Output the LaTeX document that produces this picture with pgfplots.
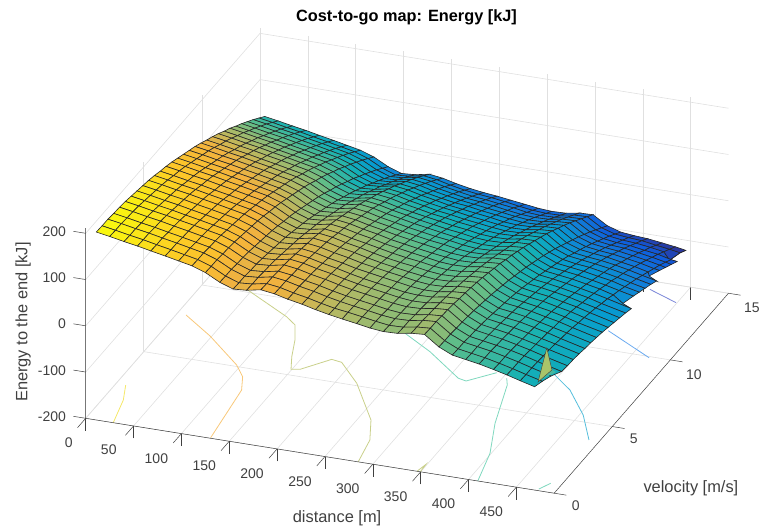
\documentclass[border=0pt]{standalone}
\usepackage{pgfplots}
\pgfplotsset{compat=1.18}
\usepackage{fontspec}
\setmainfont{Liberation Sans}
\definecolor{tk}{RGB}{64,64,64}
\definecolor{cyel}{RGB}{245,232,106}
\definecolor{cora}{RGB}{248,200,122}
\definecolor{coli}{RGB}{201,208,138}
\definecolor{ctea}{RGB}{127,216,190}
\definecolor{ccya}{RGB}{85,190,220}
\definecolor{cblu}{RGB}{106,170,240}
\definecolor{cpur}{RGB}{122,134,216}
\begin{document}
\begin{tikzpicture}
\begin{axis}[
 x={(0.957pt,-0.153pt)}, y={(11.62pt,13.33pt)}, z={(0pt,0.4625pt)},
 xmin=0,xmax=489.5,ymin=0,ymax=15,zmin=-200,zmax=211,
 xtick={0,50,...,450}, ytick={0,5,10,15}, ztick={-200,-100,0,100,200},
 xticklabels={{\hspace*{16pt}0},50,100,150,200,250,300,350,400,450},
 xtick pos=left, ytick pos=left, ztick pos=left,
 tick align=outside, major tick length=12.4pt,
 xtick style={draw=tk,line width=0.5pt},
 ytick style={draw=none}, ztick style={draw=none},
 grid=major, major grid style={draw=black!12,line width=0.6pt},
 axis line style={draw=none},
 clip=false,
 /pgf/number format/assume math mode=true,
 ticklabel style={font=\fontsize{14}{14}\selectfont,text=tk},
 xticklabel style={xshift=-13pt,yshift=-5pt},
 yticklabel style={xshift=2pt,yshift=-2pt},
 zticklabel style={anchor=east,xshift=-8pt,yshift=11pt},
 title={\textbf{Cost-to-go map: Energy [kJ]}},
 title style={at={(axis cs:-27.8,29.9,-200)},anchor=center,yshift=-8pt,font=\fontsize{16.3}{16}\selectfont},
 xlabel={distance [m]}, ylabel={velocity [m/s]}, zlabel={Energy to the end [kJ]},
 xlabel style={at={(axis cs:309.4,-3.85,-200)},anchor=center,yshift=-1pt,font=\fontsize{16.4}{16}\selectfont,text=tk},
 ylabel style={at={(axis cs:613.9,2.04,-200)},anchor=center,rotate=0,xshift=-6pt,yshift=-3pt,font=\fontsize{16.4}{16}\selectfont,text=tk},
 zlabel style={at={(axis cs:-134.4,5.68,-200)},anchor=center,font=\fontsize{16.4}{16}\selectfont,text=tk},
 colormap={parula}{rgb255=(53,42,135) rgb255=(15,92,221) rgb255=(18,125,216) rgb255=(7,156,207) rgb255=(21,177,180) rgb255=(89,189,140) rgb255=(170,186,105) rgb255=(243,178,62) rgb255=(253,200,40) rgb255=(249,251,14)},
 point meta min=-125, point meta max=190,
]
\addplot3[no marks,draw=cyel,line width=0.8pt] coordinates {(28.8,0,-200)(19.9,1.6,-200)(10.1,2.61,-200)};
\addplot3[no marks,draw=cora,line width=0.8pt] coordinates {(130.1,0.04,-200)(125.1,1.83,-200)(120.4,3.5,-200)(110.7,4.39,-200)(95.8,5.1,-200)(48.2,6.73,-200)(9.4,7.86,-200)};
\addplot3[no marks,draw=coli,line width=0.8pt] coordinates {(44.5,10.19,-200)(103.1,8.8,-200)(117.4,8.35,-200)(129.3,7.36,-200)(139.7,6.23,-200)(149.1,5.39,-200)(157.4,5.48,-200)(178.5,6.47,-200)(190,6.38,-200)(220.6,5.16,-200)(263,2.89,-200)(278,1.56,-200)(284.7,0.01,-200)};
\addplot3[no marks,draw=coli,line width=0.8pt] coordinates {(346.2,0,-200)(348.9,0.55,-200)(349.6,0,-200)};
\addplot3[no marks,draw=ctea,line width=0.8pt] coordinates {(224.9,8.96,-200)(262.5,8.01,-200)(309.7,6.56,-200)(319,6.46,-200)(340.5,7.33,-200)};
\addplot3[no marks,draw=ctea,line width=0.8pt] coordinates {(354.1,7.07,-200)(360,6.63,-200)(379.4,3.98,-200)(398.8,1.95,-200)(409.7,0,-200)};
\addplot3[no marks,draw=ctea,line width=0.8pt] coordinates {(472.2,0.11,-200)(478.4,0.62,-200)};
\addplot3[no marks,draw=ccya,line width=0.8pt] coordinates {(390.1,7.97,-200)(421.5,6.96,-200)(453.7,5.45,-200)(478.9,3.87,-200)};
\addplot3[no marks,draw=cblu,line width=0.8pt] coordinates {(409.2,11.27,-200)(468.2,9.92,-200)};
\addplot3[no marks,draw=cpur,line width=0.8pt] coordinates {(414.3,14.43,-200)(448.9,13.83,-200)};
\addplot3[surf,shader=faceted,faceted color=black!85,line width=0.6pt,z buffer=default,mesh/rows=30,mesh/cols=33] table {
5 15 22
19 15 17
34 15 11
48 15 6
62 15 0
77 15 -6
91 15 -12
105 15 -18
119 15 -28
134 15 -44
148 15 -54
162 15 -52
177 15 -46
191 15 -50
205 15 -57
220 15 -63
234 15 -67
248 15 -70
262 15 -74
277 15 -78
291 15 -82
305 15 -84
320 15 -83
334 15 -78
348 15 -77
363 15 -96
377 15 -105
391 15 -108
405 15 -110
420 15 -114
434 15 -118
445 15 -122
445 15 -122
5 14.5 33
19 14.5 28
34 14.5 22
48 14.5 17
62 14.5 11
77 14.5 5
91 14.5 -1
105 14.5 -7
119 14.5 -17
134 14.5 -33
148 14.5 -43
162 14.5 -41
177 14.5 -35
191 14.5 -39
205 14.5 -46
220 14.5 -52
234 14.5 -56
248 14.5 -59
262 14.5 -63
277 14.5 -68
291 14.5 -72
305 14.5 -74
320 14.5 -73
334 14.5 -68
348 14.5 -67
363 14.5 -86
377 14.5 -95
391 14.5 -98
405 14.5 -100
420 14.5 -105
434 14.5 -109
445 14.5 -113
445 14.5 -113
5 14 44
19 14 39
34 14 33
48 14 28
62 14 22
77 14 16
91 14 10
105 14 4
119 14 -6
134 14 -22
148 14 -32
162 14 -30
177 14 -24
191 14 -28
205 14 -35
220 14 -41
234 14 -46
248 14 -49
262 14 -53
277 14 -57
291 14 -62
305 14 -64
320 14 -63
334 14 -58
348 14 -57
363 14 -76
377 14 -85
391 14 -89
405 14 -91
420 14 -95
434 14 -100
445 13.6 -103
445 13.6 -103
5 13.5 54
19 13.5 49
34 13.5 43
48 13.5 38
62 13.5 32
77 13.5 26
91 13.5 20
105 13.5 14
119 13.5 4
134 13.5 -12
148 13.5 -22
162 13.5 -20
177 13.5 -14
191 13.5 -18
205 13.5 -25
220 13.5 -31
234 13.5 -36
248 13.5 -39
262 13.5 -43
277 13.5 -48
291 13.5 -52
305 13.5 -54
320 13.5 -53
334 13.5 -48
348 13.5 -47
363 13.5 -66
377 13.5 -76
391 13.5 -80
405 13.5 -82
420 13.5 -87
434 13.5 -91
448 13.5 -98
454 13.5 -100
5 13 64
19 13 59
34 13 53
48 13 48
62 13 42
77 13 36
91 13 30
105 13 24
119 13 14
134 13 -2
148 13 -12
162 13 -10
177 13 -4
191 13 -8
205 13 -15
220 13 -21
234 13 -26
248 13 -30
262 13 -34
277 13 -38
291 13 -42
305 13 -45
320 13 -44
334 13 -39
348 13 -37
363 13 -57
377 13 -67
391 13 -71
405 13 -73
420 13 -78
434 13 -83
448 13 -89
454 13 -92
5 12.5 73
19 12.5 68
34 12.5 62
48 12.5 57
62 12.5 51
77 12.5 45
91 12.5 39
105 12.5 33
119 12.5 23
134 12.5 7
148 12.5 -3
162 12.5 -1
177 12.5 5
191 12.5 1
205 12.5 -6
220 12.5 -12
234 12.5 -17
248 12.5 -20
262 12.5 -25
277 12.5 -29
291 12.5 -33
305 12.5 -36
320 12.5 -35
334 12.5 -30
348 12.5 -28
363 12.5 -48
377 12.5 -58
391 12.5 -62
405 12.5 -65
420 12.5 -70
434 12.5 -75
448 12.5 -81
454 12.5 -84
5 12 83
19 12 78
34 12 72
48 12 67
62 12 61
77 12 55
91 12 49
105 12 43
119 12 33
134 12 17
148 12 7
162 12 9
177 12 15
191 12 11
205 12 4
220 12 -2
234 12 -8
248 12 -12
262 12 -16
277 12 -20
291 12 -25
305 12 -27
320 12 -26
334 12 -21
348 12 -20
363 12 -40
377 12 -50
391 12 -54
405 12 -57
420 12 -62
434 12 -67
448 12 -74
454 12 -76
5 11.5 91
19 11.5 86
34 11.5 80
48 11.5 75
62 11.5 69
77 11.5 63
91 11.5 57
105 11.5 51
119 11.5 41
134 11.5 25
148 11.5 15
162 11.5 17
177 11.5 23
191 11.5 19
205 11.5 12
220 11.5 6
234 11.5 1
248 11.5 -3
262 11.5 -8
277 11.5 -12
291 11.5 -16
305 11.5 -19
320 11.5 -18
334 11.5 -13
348 11.5 -11
363 11.5 -32
377 11.5 -42
391 11.5 -46
405 11.5 -49
420 11.5 -55
434 11.5 -60
448 11.5 -67
454 11.1 -62
5 11 100
19 11 95
34 11 89
48 11 84
62 11 78
77 11 72
91 11 66
105 11 60
119 11 50
134 11 34
148 11 24
162 11 26
177 11 32
191 11 28
205 11 21
220 11 15
234 11 9
248 11 5
262 11 0
277 11 -4
291 11 -8
305 11 -11
320 11 -10
334 11 -5
348 11 -3
363 11 -24
377 11 -35
391 11 -39
405 11 -42
420 11 -47
434 11 -53
448 11 -60
463 11 -67
5 10.5 108
19 10.5 103
34 10.5 97
48 10.5 92
62 10.5 86
77 10.5 80
91 10.5 74
105 10.5 68
119 10.5 58
134 10.5 42
148 10.5 32
162 10.5 34
177 10.5 40
191 10.5 36
205 10.5 29
220 10.5 23
234 10.5 17
248 10.5 13
262 10.5 8
277 10.5 4
291 10.5 -1
305 10.5 -3
320 10.5 -2
334 10.5 3
348 10.5 4
363 10.5 -16
377 10.5 -27
391 10.5 -31
405 10.5 -35
420 10.5 -40
434 10.5 -46
448 10.5 -53
463 10.5 -60
5 10 115
19 10 110
34 10 104
48 10 99
62 10 93
77 10 87
91 10 81
105 10 75
119 10 65
134 10 49
148 10 39
162 10 41
177 10 47
191 10 43
205 10 36
220 10 30
234 10 25
248 10 20
262 10 15
277 10 11
291 10 6
305 10 4
320 10 5
334 10 10
348 10 11
363 10 -9
377 10 -20
391 10 -25
405 10 -28
420 10 -34
434 10 -40
448 10 -47
463 10 -54
5 9.5 123
19 9.5 118
34 9.5 112
48 9.5 107
62 9.5 101
77 9.5 95
91 9.5 89
105 9.5 83
119 9.5 73
134 9.5 57
148 9.5 47
162 9.5 49
177 9.5 55
191 9.5 51
205 9.5 44
220 9.5 38
234 9.5 32
248 9.5 27
262 9.5 22
277 9.5 18
291 9.5 13
305 9.5 11
320 9.5 12
334 9.5 17
348 9.5 18
363 9.5 -2
377 9.5 -14
391 9.5 -18
405 9.5 -22
420 9.5 -28
434 9.5 -33
448 9.5 -41
463 9.5 -48
5 9 130
19 9 125
34 9 119
48 9 114
62 9 108
77 9 102
91 9 96
105 9 90
119 9 80
134 9 64
148 9 54
162 9 56
177 9 62
191 9 58
205 9 51
220 9 45
234 9 39
248 9 34
262 9 29
277 9 24
291 9 20
305 9 17
320 9 18
334 9 23
348 9 25
363 9 4
377 9 -8
391 9 -12
405 9 -16
420 9 -22
434 9 -28
448 9 -35
463 9 -42
5 8.5 136
19 8.5 131
34 8.5 125
48 8.5 120
62 8.5 114
77 8.5 108
91 8.5 102
105 8.5 96
119 8.5 86
134 8.5 70
148 8.5 60
162 8.5 62
177 8.5 68
191 8.5 64
205 8.5 57
220 8.5 51
234 8.5 45
248 8.5 40
262 8.5 35
277 8.5 31
291 8.5 26
305 8.5 23
320 8.5 24
334 8.5 29
348 8.5 31
363 8.5 10
377 8.5 -2
391 8.5 -6
405 8.5 -10
420 8.5 -16
434 8.5 -22
448 8.5 -30
463 8.1 -32
5 8 142
19 8 137
34 8 131
48 8 126
62 8 120
77 8 114
91 8 108
105 8 102
119 8 92
134 8 76
148 8 66
162 8 68
177 8 74
191 8 70
205 8 63
220 8 57
234 8 51
248 8 46
262 8 41
277 8 37
291 8 32
305 8 29
320 8 30
334 8 35
348 8 37
363 8 16
377 8 4
391 8 0
405 8 -5
420 8 -11
434 8 -17
448 8 -24
473 8 -37
5 7.5 148
19 7.5 143
34 7.5 137
48 7.5 132
62 7.5 126
77 7.5 120
91 7.5 114
105 7.5 108
119 7.5 98
134 7.5 82
148 7.5 72
162 7.5 74
177 7.5 80
191 7.5 76
205 7.5 69
220 7.5 63
234 7.5 57
248 7.5 52
262 7.5 47
277 7.5 42
291 7.5 37
305 7.5 35
320 7.5 36
334 7.5 41
348 7.5 42
363 7.5 21
377 7.5 9
391 7.5 5
405 7.5 0
420 7.5 -6
434 7.5 -12
448 7.5 -20
473 7.5 -32
5 7 154
19 7 149
34 7 143
48 7 138
62 7 132
77 7 126
91 7 120
105 7 114
119 7 104
134 7 88
148 7 78
162 7 80
177 7 86
191 7 82
205 7 75
220 7 69
234 7 62
248 7 57
262 7 52
277 7 47
291 7 43
305 7 40
320 7 41
334 7 46
348 7 48
363 7 26
377 7 14
391 7 10
405 7 5
420 7 -1
434 7 -8
448 7 -15
473 7 -28
5 6.5 159
19 6.5 154
34 6.5 148
48 6.5 143
62 6.5 137
77 6.5 131
91 6.5 125
105 6.5 119
119 6.5 109
134 6.5 93
148 6.5 83
162 6.5 85
177 6.5 91
191 6.5 87
205 6.5 80
220 6.5 74
234 6.5 67
248 6.5 62
262 6.5 57
277 6.5 52
291 6.5 47
305 6.5 45
320 6.5 46
334 6.5 51
348 6.5 52
363 6.5 31
377 6.5 19
391 6.5 14
405 6.5 10
420 6.5 3
434 6.5 -3
448 6.5 -11
473 6.5 -24
5 6 163
19 6 158
34 6 152
48 6 147
62 6 141
77 6 135
91 6 129
105 6 123
119 6 113
134 6 97
148 6 87
162 6 89
177 6 95
191 6 91
205 6 84
220 6 78
234 6 72
248 6 66
262 6 61
277 6 57
291 6 52
305 6 49
320 6 50
334 6 55
348 6 57
363 6 35
377 6 23
391 6 18
405 6 14
420 6 7
434 6 1
448 6 -7
473 6 -20
5 5.5 168
19 5.5 163
34 5.5 157
48 5.5 152
62 5.5 146
77 5.5 140
91 5.5 134
105 5.5 128
119 5.5 118
134 5.5 102
148 5.5 92
162 5.5 94
177 5.5 100
191 5.5 96
205 5.5 89
220 5.5 83
234 5.5 76
248 5.5 70
262 5.5 65
277 5.5 61
291 5.5 56
305 5.5 53
320 5.5 54
334 5.5 59
348 5.5 61
363 5.5 39
377 5.5 27
391 5.5 22
405 5.5 17
420 5.5 11
434 5.5 4
448 5.5 -4
473 5.5 -16
5 5 172
19 5 167
34 5 161
48 5 156
62 5 150
77 5 144
91 5 138
105 5 132
119 5 122
134 5 106
148 5 96
162 5 98
177 5 104
191 5 100
205 5 93
220 5 87
234 5 80
248 5 74
262 5 69
277 5 64
291 5 60
305 5 57
320 5 58
334 5 63
348 5 65
363 5 43
377 5 30
391 5 26
405 5 21
420 5 14
434 5 8
448 5 0
473 5 -13
5 4.5 175
19 4.5 170
34 4.5 164
48 4.5 159
62 4.5 153
77 4.5 147
91 4.5 141
105 4.5 135
119 4.5 125
134 4.5 109
148 4.5 99
162 4.5 101
177 4.5 107
191 4.5 103
205 4.5 96
220 4.5 90
234 4.5 83
248 4.5 78
262 4.5 73
277 4.5 68
291 4.5 63
305 4.5 60
320 4.5 61
334 4.5 66
348 4.5 68
363 4.5 46
377 4.5 33
391 4.5 29
405 4.5 24
420 4.5 17
434 4.5 10
448 4.5 3
473 4.5 -10
5 4 178
19 4 173
34 4 167
48 4 162
62 4 156
77 4 150
91 4 144
105 4 138
119 4 128
134 4 112
148 4 102
162 4 104
177 4 110
191 4 106
205 4 99
220 4 93
234 4 86
248 4 81
262 4 76
277 4 71
291 4 66
305 4 63
320 4 64
334 4 69
348 4 71
363 4 49
377 4 36
391 4 31
405 4 27
420 4 20
434 4 13
448 4 5
473 4 -8
5 3.5 181
19 3.5 176
34 3.5 170
48 3.5 165
62 3.5 159
77 3.5 153
91 3.5 147
105 3.5 141
119 3.5 131
134 3.5 115
148 3.5 105
162 3.5 107
177 3.5 113
191 3.5 109
205 3.5 102
220 3.5 96
234 3.5 89
248 3.5 83
262 3.5 78
277 3.5 73
291 3.5 68
305 3.5 66
320 3.5 67
334 3.5 72
348 3.5 73
363 3.5 52
377 3.5 39
391 3.5 34
405 3.5 29
420 3.5 22
434 3.5 15
448 3.5 8
473 3.5 -5
5 3 184
19 3 179
34 3 173
48 3 168
62 3 162
77 3 156
91 3 150
105 3 144
119 3 134
134 3 118
148 3 108
162 3 110
177 3 116
191 3 112
205 3 105
220 3 99
234 3 92
248 3 86
262 3 81
277 3 76
291 3 71
305 3 68
320 3 69
334 3 74
348 3 76
363 3 54
377 3 41
391 3 36
405 3 31
420 3 24
434 3 17
448 3 10
473 3 -3
5 2.5 186
19 2.5 181
34 2.5 175
48 2.5 170
62 2.5 164
77 2.5 158
91 2.5 152
105 2.5 146
119 2.5 136
134 2.5 120
148 2.5 110
162 2.5 112
177 2.5 118
191 2.5 114
205 2.5 107
220 2.5 101
234 2.5 94
248 2.5 88
262 2.5 83
277 2.5 78
291 2.5 73
305 2.5 70
320 2.5 71
334 2.5 76
348 2.5 78
363 2.5 56
377 2.5 43
391 2.5 38
405 2.5 33
420 2.5 26
434 2.5 19
448 2.5 11
473 2.5 -2
5 2 187
19 2 182
34 2 176
48 2 171
62 2 165
77 2 159
91 2 153
105 2 147
119 2 137
134 2 121
148 2 111
162 2 113
177 2 119
191 2 115
205 2 108
220 2 102
234 2 95
248 2 89
262 2 84
277 2 79
291 2 74
305 2 71
320 2 72
334 2 77
348 2 79
363 2 57
377 2 44
391 2 39
405 2 34
420 2 28
434 2 21
448 2 13
473 2 0
5 1.5 189
19 1.5 184
34 1.5 178
48 1.5 173
62 1.5 167
77 1.5 161
91 1.5 155
105 1.5 149
119 1.5 139
134 1.5 123
148 1.5 113
162 1.5 115
177 1.5 121
191 1.5 117
205 1.5 110
220 1.5 104
234 1.5 97
248 1.5 91
262 1.5 86
277 1.5 81
291 1.5 76
305 1.5 73
320 1.5 74
334 1.5 79
348 1.5 81
363 1.5 59
377 1.5 46
391 1.5 41
405 1.5 36
420 1.5 29
434 1.5 22
448 1.5 14
468 1.5 3
5 1 189
19 1 184
34 1 178
48 1 173
62 1 167
77 1 161
91 1 155
105 1 149
119 1 139
134 1 123
148 1 113
162 1 115
177 1 121
191 1 117
205 1 110
220 1 104
234 1 97
248 1 91
262 1 87
277 1 82
291 1 77
305 1 73
320 1 74
334 1 79
348 1 81
363 1 59
377 1 46
391 1 41
405 1 36
420 1 29
434 1 22
448 1 14
465 1 5
5 .5 190
19 .5 185
34 .5 179
48 .5 174
62 .5 168
77 .5 162
91 .5 156
105 .5 150
119 .5 140
134 .5 124
148 .5 114
162 .5 116
177 .5 122
191 .5 118
205 .5 111
220 .5 105
234 .5 98
248 .5 92
262 .5 87
277 .5 82
291 .5 77
305 .5 74
320 .5 75
334 .5 80
348 .5 82
363 .5 60
377 .5 47
391 .5 42
405 .5 37
420 .5 30
434 .5 23
448 .5 15
463 .5 7
};
\addplot3[fill={rgb,255:red,69;green,184;blue,160},draw=none] coordinates {(460,1.2,0.4)(463.5,2.3,-13)(460.5,2.2,-6.5)} -- cycle;
\addplot3[fill={rgb,255:red,169;green,196;blue,106},draw=black!75,line width=0.4pt] coordinates {(460.5,1,2)(457.5,2,45.6)(460.5,2.2,-6.5)} -- cycle;
\addplot3[no marks,draw=tk,line width=0.5pt] coordinates {(0,0,211)(0,0,-200)(489.5,0,-200)(489.5,15,-200)};
\addplot3[no marks,draw=tk,line width=0.5pt] coordinates {(0,0,-200)(-12.8,0,-200)};
\addplot3[no marks,draw=tk,line width=0.5pt] coordinates {(0,0,-100)(-12.8,0,-100)};
\addplot3[no marks,draw=tk,line width=0.5pt] coordinates {(0,0,0)(-12.8,0,0)};
\addplot3[no marks,draw=tk,line width=0.5pt] coordinates {(0,0,100)(-12.8,0,100)};
\addplot3[no marks,draw=tk,line width=0.5pt] coordinates {(0,0,200)(-12.8,0,200)};
\addplot3[no marks,draw=tk,line width=0.5pt] coordinates {(489.5,0,-200)(502.3,0,-200)};
\addplot3[no marks,draw=tk,line width=0.5pt] coordinates {(489.5,5,-200)(502.3,5,-200)};
\addplot3[no marks,draw=tk,line width=0.5pt] coordinates {(489.5,10,-200)(502.3,10,-200)};
\addplot3[no marks,draw=tk,line width=0.5pt] coordinates {(489.5,15,-200)(502.3,15,-200)};
\coordinate (A) at (axis cs:0,0,-200);
\end{axis}
\pgfresetboundingbox
\path[use as bounding box] ([xshift=-85.7pt,yshift=-109.7pt]A) rectangle ([xshift=678.3pt,yshift=418.3pt]A);
\end{tikzpicture}
\end{document}
